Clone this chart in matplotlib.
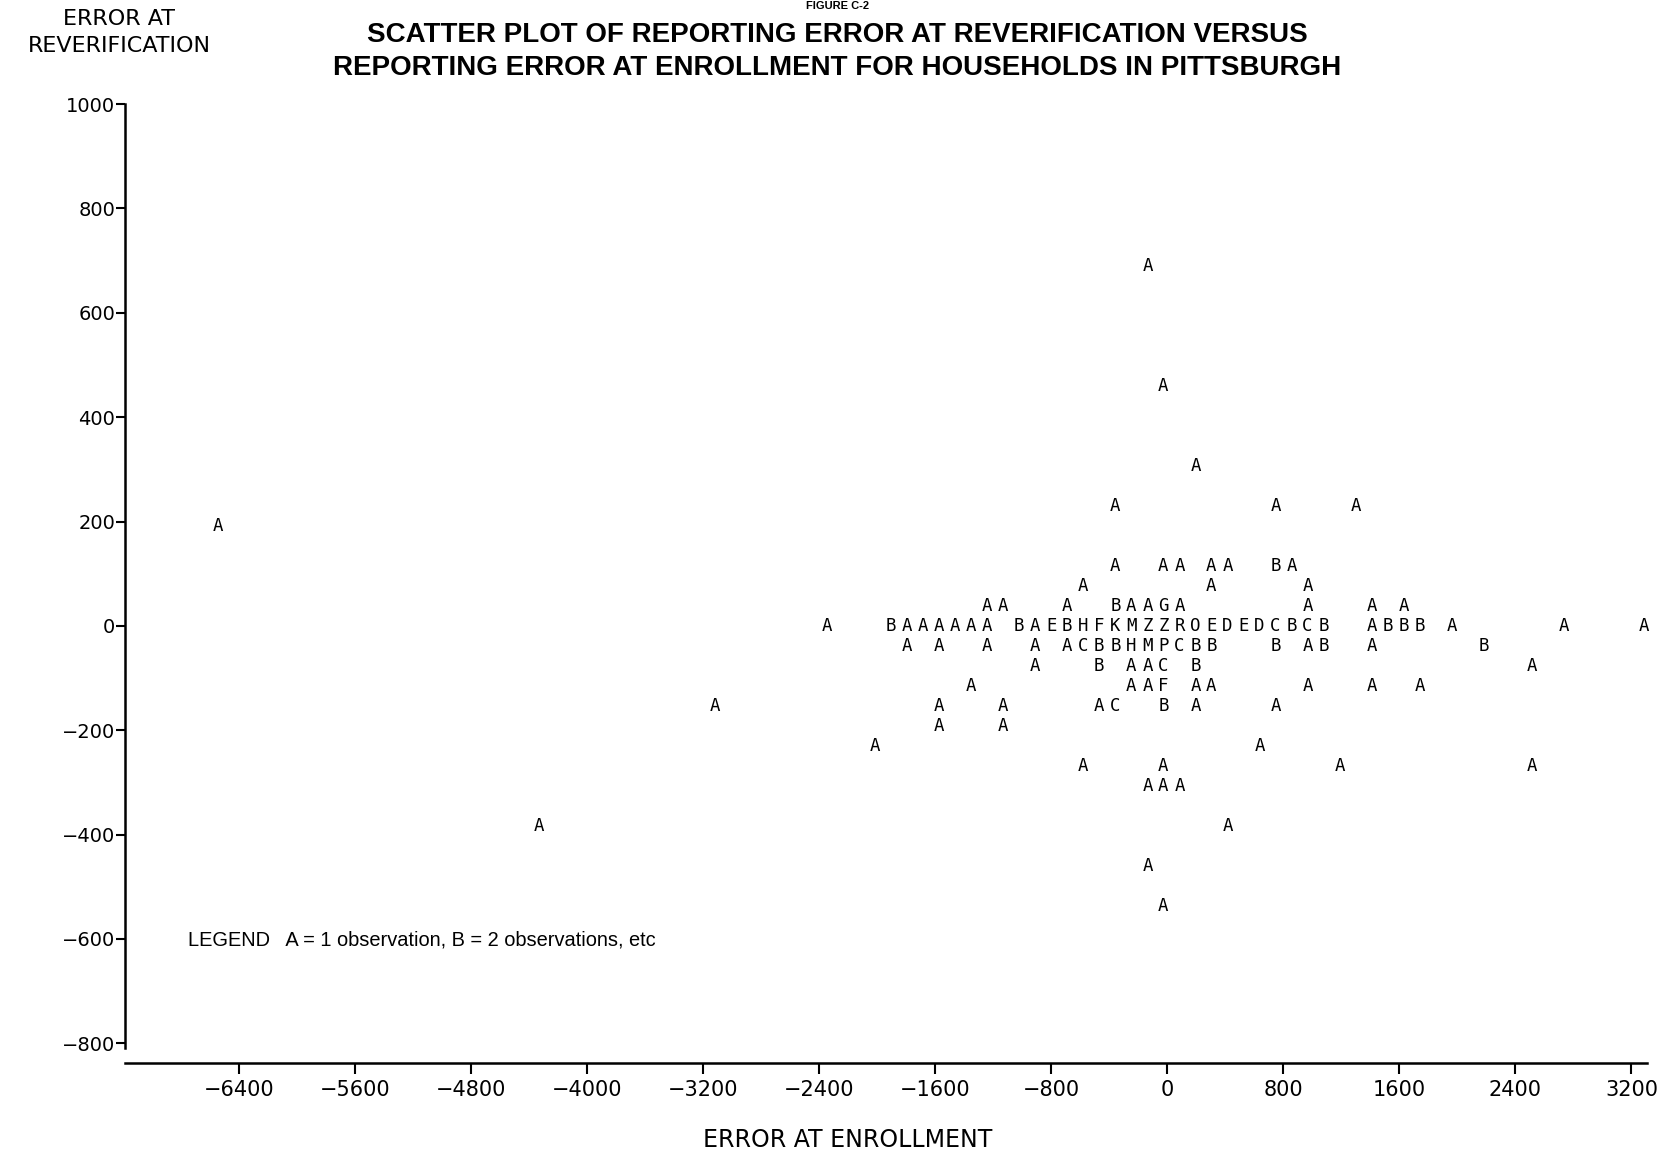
import matplotlib
matplotlib.use("Agg")
import matplotlib.pyplot as plt

# line printer scatter: each letter = number of observations (A=1, B=2, ...)
# values, row by row (error at reverification)
err_enroll = [
    -136,                                   # 689
    -26,                                    # 460
    195,                                    # 306
    -357, 747, 1299,                        # 230
    -6543,                                  # 192
    -357, -26, 85, 305, 416, 747, 858,      # 115
    -578, 305, 968,                         # 77
    -1241, -1130, -689, -357, -247, -136, -26, 85, 968, 1410, 1631,   # 38
    -2345, -1904, -1793, -1683, -1572, -1462, -1351, -1241,           # 0
    -1020, -910, -799, -689, -578, -468, -357, -247, -136, -26,
    85, 195, 305, 416, 526, 637, 747, 858, 968, 1079,
    1410, 1520, 1631, 1741, 1962, 2735, 3288,
    -1793, -1572, -1241, -910, -689, -578, -468, -357, -247, -136,    # -38
    -26, 85, 195, 305, 747, 968, 1079, 1410, 2183,
    -910, -468, -247, -136, -26, 195, 2514,                           # -77
    -1351, -247, -136, -26, 195, 305, 968, 1410, 1741,                # -115
    -3119, -1572, -1130, -468, -357, -26, 195, 747,                   # -153
    -1572, -1130,                                                     # -192
    -2014, 637,                                                       # -230
    -578, -26, 1189, 2514,                                            # -268
    -136, -26, 85,                                                    # -306
    -4334, 416,                                                       # -383
    -136,                                                             # -460
    -26,                                                              # -536
]
err_reverif = (
    [689] + [460] + [306] + [230] * 3 + [192] + [115] * 7 + [77] * 3
    + [38] * 11 + [0] * 35 + [-38] * 19 + [-77] * 7 + [-115] * 9
    + [-153] * 8 + [-192] * 2 + [-230] * 2 + [-268] * 4 + [-306] * 3
    + [-383] * 2 + [-460] + [-536]
)
n_obs = [
    1,
    1,
    1,
    1, 1, 1,
    1,
    1, 1, 1, 1, 1, 2, 1,
    1, 1, 1,
    1, 1, 1, 2, 1, 1, 7, 1, 1, 1, 1,
    1, 2, 1, 1, 1, 1, 1, 1,
    2, 1, 5, 2, 8, 6, 11, 13, 26, 26,
    18, 15, 5, 4, 5, 4, 3, 2, 3, 2,
    1, 2, 2, 2, 1, 1, 1,
    1, 1, 1, 1, 1, 3, 2, 2, 8, 13,
    16, 3, 2, 2, 2, 1, 2, 1, 2,
    1, 2, 1, 1, 3, 2, 1,
    1, 1, 1, 6, 1, 1, 1, 1, 1,
    1, 1, 1, 1, 3, 2, 1, 1,
    1, 1,
    1, 1,
    1, 1, 1, 1,
    1, 1, 1,
    1, 1,
    1,
    1,
]

x_ticks = [-6400, -5600, -4800, -4000, -3200, -2400, -1600, -800, 0, 800, 1600, 2400, 3200]
y_ticks = [-800, -600, -400, -200, 0, 200, 400, 600, 800, 1000]

plt.rcParams['font.family'] = ['DejaVu Sans']

fig = plt.figure(figsize=(16.58, 11.53), dpi=100)
ax = fig.add_axes([0.0754, 0.078, 0.918, 0.8353])

for x, y, n in zip(err_enroll, err_reverif, n_obs):
    ax.text(x, y, chr(64 + n), ha="center", va="center",
            family="DejaVu Sans Mono", fontsize=12.5, color="black")

ax.set_xlim(-7184, 3308)
ax.set_ylim(-838, 1008)
ax.set_xticks(x_ticks)
ax.set_yticks(y_ticks)
ax.tick_params(axis="x", labelsize=15, width=1.5, length=8, pad=4)
ax.tick_params(axis="y", labelsize=14, width=1.5, length=6.5, pad=0.5)
ax.spines["top"].set_visible(False)
ax.spines["right"].set_visible(False)
ax.spines["left"].set_linewidth(1.8)
ax.spines["bottom"].set_linewidth(1.8)
ax.spines["left"].set_bounds(-810, 1000)

ax.text(-6747, -602, "LEGEND   A = 1 observation, B = 2 observations, etc",
        ha="left", va="center", fontsize=14.4, family="Liberation Sans")

# figure number is cut off at the top of the scan; keep it small and visible
fig.text(0.505, 0.999, "FIGURE C-2", ha="center", va="top",
         fontsize=8, fontweight="bold", family="Liberation Sans")
fig.text(0.505, 0.9696, "SCATTER PLOT OF REPORTING ERROR AT REVERIFICATION VERSUS",
         ha="center", va="center", fontsize=20, fontweight="bold", family="Liberation Sans")
fig.text(0.505, 0.9413, "REPORTING ERROR AT ENROLLMENT FOR HOUSEHOLDS IN PITTSBURGH",
         ha="center", va="center", fontsize=20, fontweight="bold", family="Liberation Sans")
fig.text(0.072, 0.9835, "ERROR AT", ha="center", va="center", fontsize=16)
fig.text(0.072, 0.9605, "REVERIFICATION", ha="center", va="center", fontsize=16)
fig.text(0.511, 0.0113, "ERROR AT ENROLLMENT", ha="center", va="center", fontsize=17)

fig.savefig("out.png", dpi=100, facecolor="white")
